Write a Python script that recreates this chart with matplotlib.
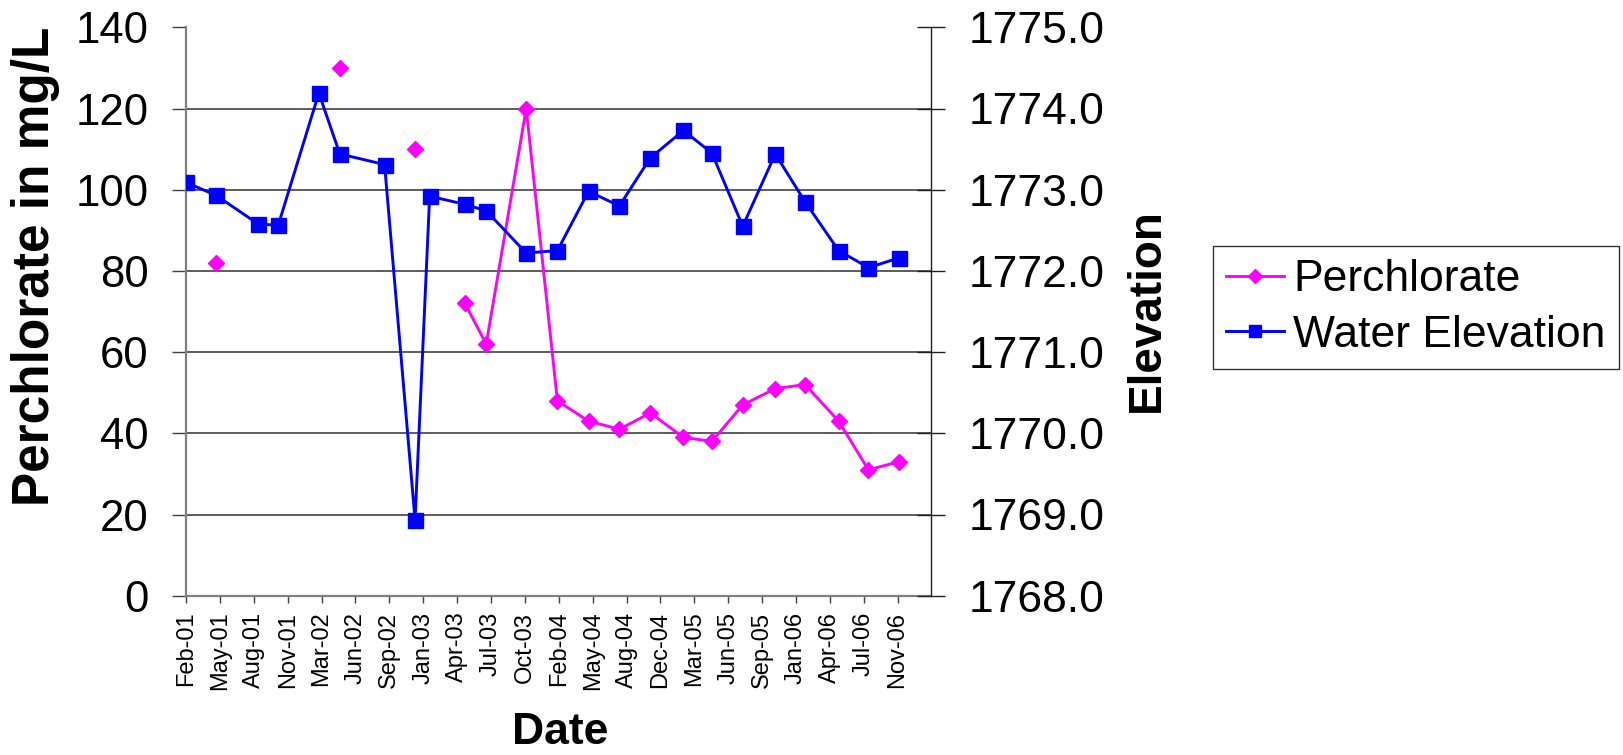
import numpy as np
import matplotlib
matplotlib.use("Agg")
import matplotlib.pyplot as plt
import matplotlib.dates as mdates
from matplotlib.ticker import FixedLocator

plt.rcParams['font.family'] = ['Liberation Sans', 'DejaVu Sans']

# ---------------- data ----------------
dates = np.array([
    '2001-02-01', '2001-05-01', '2001-09-01', '2001-10-31', '2002-02-28',
    '2002-05-01', '2002-09-10', '2002-12-09', '2003-01-21', '2003-05-05',
    '2003-07-07', '2003-11-02', '2004-02-02', '2004-05-04', '2004-08-03',
    '2004-11-02', '2005-02-08', '2005-05-03', '2005-08-02', '2005-11-06',
    '2006-02-02', '2006-05-12', '2006-08-08', '2006-11-06'], dtype='datetime64[D]')

perchlorate = np.array([
    np.nan, 82, np.nan, np.nan, np.nan,
    130, np.nan, 110, np.nan, 72,
    62, 120, 48, 43, 41,
    45, 39, 38, 47, 51,
    52, 43, 31, 33], dtype=float)

water_elevation = np.array([
    1773.09, 1772.93, 1772.58, 1772.56, 1774.19,
    1773.44, 1773.31, 1768.93, 1772.92, 1772.82,
    1772.74, 1772.22, 1772.25, 1772.98, 1772.80,
    1773.39, 1773.73, 1773.45, 1772.55, 1773.44,
    1772.85, 1772.25, 1772.04, 1772.16])

axis_start = np.datetime64('2001-02-01')
axis_days = 2200
tick_step_days = 100
left_ticks = np.arange(0, 141, 20)
right_ticks = np.arange(1768, 1775.1, 1.0)

# ---------------- figure ----------------
W, H = 1623, 755
fig = plt.figure(figsize=(W / 100, H / 100), dpi=100)
ax = fig.add_axes([186 / W, 1 - 595.7 / H, (931.5 - 186) / W, (595.7 - 27.3) / H])
ax2 = ax.twinx()

magenta = '#FF00FF'
blue = '#0000FF'

ax.plot(dates, perchlorate, color=magenta, lw=2.1, marker='D', ms=8.5,
        mec=magenta, mfc=magenta, label='Perchlorate', zorder=3)
ax2.plot(dates, water_elevation, color=blue, lw=2.1, marker='s', ms=10.8,
         mec=blue, mfc=blue, label='Water Elevation', zorder=3)

# x axis (date scale, tick every 100 days)
start_num = mdates.date2num(axis_start.astype('datetime64[s]').astype(object))
ax.set_xlim(start_num, start_num + axis_days)
xt = start_num + np.arange(0, axis_days, tick_step_days)
ax.xaxis.set_major_locator(FixedLocator(xt))
ax.xaxis.set_major_formatter(mdates.DateFormatter('%b-%y'))
ax.tick_params(axis='x', direction='out', length=5, width=1, color='#404040',
               labelsize=17, pad=6.5, labelrotation=90)
for lbl in ax.get_xticklabels():
    lbl.set_verticalalignment('top')
    lbl.set_horizontalalignment('center')

# left axis
ax.set_ylim(0, 140)
ax.set_yticks(left_ticks)
ax.set_yticklabels([f'{v:d}' for v in left_ticks])
ax.tick_params(axis='y', direction='out', length=10, width=1, color='#404040',
               labelsize=31.5, pad=17)
ax.yaxis.grid(True, color='#303030', lw=1.1)
ax.set_axisbelow(True)
gl = ax.get_ygridlines()
gl[0].set_visible(False)
gl[-1].set_visible(False)

# right axis
ax2.set_ylim(1768, 1775)
ax2.set_yticks(right_ticks)
ax2.set_yticklabels([f'{v:.1f}' for v in right_ticks])
ax2.tick_params(axis='y', direction='inout', length=20, width=1, color='#202020',
                labelsize=32, pad=17)

for a in (ax, ax2):
    a.spines['top'].set_visible(False)
    a.patch.set_visible(False)
ax.spines['left'].set_color('#808080')
ax.spines['left'].set_linewidth(1.6)
ax.spines['bottom'].set_color('#808080')
ax.spines['bottom'].set_linewidth(1.6)
ax.spines['right'].set_visible(False)
ax2.spines['left'].set_visible(False)
ax2.spines['bottom'].set_visible(False)
ax2.spines['right'].set_color('#202020')
ax2.spines['right'].set_linewidth(1.0)

# titles
fig.text(36 / W, 1 - 266 / H, 'Perchlorate in mg/L', rotation=90, ha='center',
         va='center', fontsize=37, fontweight='bold')
fig.text(1147 / W, 1 - 310 / H, 'Elevation', rotation=90, ha='center',
         va='center', fontsize=33, fontweight='bold')
fig.text(560 / W, 1 - 732 / H, 'Date', ha='center', va='center',
         fontsize=32, fontweight='bold')

# legend
h1, l1 = ax.get_legend_handles_labels()
h2, l2 = ax2.get_legend_handles_labels()
leg = fig.legend(h1 + h2, l1 + l2, loc='upper left',
                 bbox_to_anchor=(1213 / W, 1 - 246 / H), fontsize=32,
                 frameon=True, fancybox=False, shadow=False, borderpad=0.3,
                 handlelength=1.3, handletextpad=0.2, labelspacing=0.33,
                 borderaxespad=0, markerscale=0.85)
leg.get_frame().set_edgecolor('#000000')
leg.get_frame().set_linewidth(1.0)

fig.savefig('out.png', dpi=100)
